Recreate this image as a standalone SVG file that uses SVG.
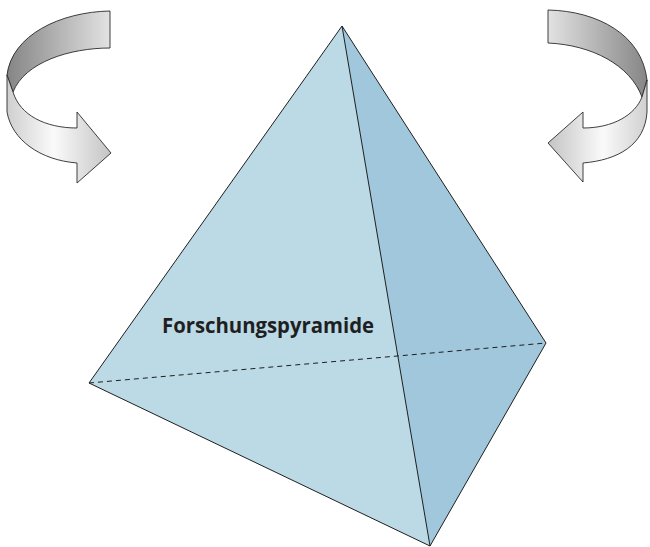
<svg xmlns="http://www.w3.org/2000/svg" width="650" height="547" viewBox="0 0 650 547">
  <defs>
    <linearGradient id="lTop" x1="7" y1="0" x2="110" y2="0" gradientUnits="userSpaceOnUse">
      <stop offset="0" stop-color="#858585"/>
      <stop offset="1" stop-color="#e2e2e2"/>
    </linearGradient>
    <linearGradient id="lLow" x1="7" y1="0" x2="111" y2="0" gradientUnits="userSpaceOnUse">
      <stop offset="0" stop-color="#cfcfcf"/>
      <stop offset="0.45" stop-color="#fafafa"/>
      <stop offset="1" stop-color="#c4c4c4"/>
    </linearGradient>
    <linearGradient id="rTop" x1="648" y1="0" x2="548" y2="0" gradientUnits="userSpaceOnUse">
      <stop offset="0" stop-color="#858585"/>
      <stop offset="1" stop-color="#e2e2e2"/>
    </linearGradient>
    <linearGradient id="rLow" x1="648" y1="0" x2="548" y2="0" gradientUnits="userSpaceOnUse">
      <stop offset="0" stop-color="#cfcfcf"/>
      <stop offset="0.45" stop-color="#fafafa"/>
      <stop offset="1" stop-color="#c4c4c4"/>
    </linearGradient>
    <style>
      .rib { stroke: #2a2a2a; stroke-width: 0.9; stroke-linejoin: round; }
      .edge { fill: none; stroke: #1e1e1e; stroke-width: 1; }
      .label { font-family: "Open Sans", "Noto Sans", "Liberation Sans", sans-serif; font-weight: bold; font-size: 20.5px; fill: #1f1f1f; }
    </style>
  </defs>

  <g id="arrow-left">
    <path class="rib" fill="url(#lTop)" d="M110,11 C60,12 12,35 7,75 L13,92 C25,62 70,48 110,48 Z"/>
    <path class="rib" fill="url(#lLow)" d="M7,75 L7,112 C12,140 40,160 77,163 L77,183 L111,153 L77,112 L77,128 C45,128 20,115 13,92 Z"/>
  </g>

  <g id="arrow-right">
    <path class="rib" fill="url(#rTop)" d="M548,10 C598,11 642,35 647,80 L642,97 C630,65 592,45 548,43 Z"/>
    <path class="rib" fill="url(#rLow)" d="M647,80 L647,112 C645,145 618,160 583,163 L583,182 L548,143 L583,112 L583,128 C613,128 635,115 642,97 Z"/>
  </g>

  <g id="pyramid">
    <polygon points="342,26 89,383 430,546" fill="#bcd9e6"/>
    <polygon points="342,26 546,343 430,546" fill="#a0c7dc"/>
    <g id="connectors">
      <line class="edge" x1="89" y1="383" x2="546" y2="343" stroke-dasharray="5,4"/>
      <polyline class="edge" points="89,383 342,26 546,343 430,546 89,383" stroke-linejoin="miter"/>
      <line class="edge" x1="342" y1="26" x2="430" y2="546"/>
    </g>
  </g>

  <g id="label">
    <text class="label" x="162" y="333" textLength="212" lengthAdjust="spacingAndGlyphs">Forschungspyramide</text>
  </g>
</svg>
